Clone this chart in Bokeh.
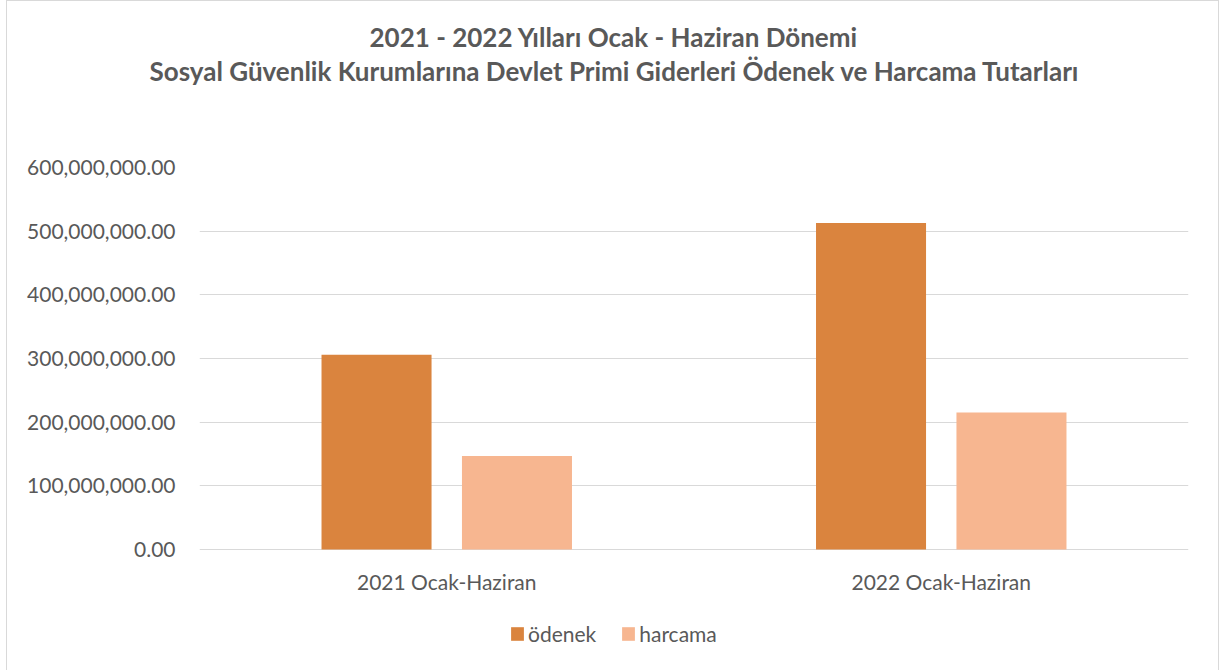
from bokeh.plotting import figure
from bokeh.models import (FactorRange, Range1d, Title, Legend, LegendItem,
                          NumeralTickFormatter, FixedTicker, ColumnDataSource)
from bokeh.core.properties import value
from bokeh.transform import dodge
from bokeh.embed import file_html
from bokeh.resources import INLINE

categories = ["2021 Ocak-Haziran", "2022 Ocak-Haziran"]
odenek = [306000000, 513000000]
harcama = [147000000, 215000000]
series_names = ["ödenek", "harcama"]
colors = ["#DA843E", "#F7B690"]
title_line1 = "2021 - 2022 Yılları Ocak - Haziran Dönemi"
title_line2 = "Sosyal Güvenlik Kurumlarına Devlet Primi Giderleri Ödenek ve Harcama Tutarları"
y_ticks = [0, 100000000, 200000000, 300000000, 400000000, 500000000, 600000000]

FONT = "Lato"
TXT = "#595959"

# frame extends below the zero line to leave room for category labels and legend
Y_TOP = 600000000
Y_BOTTOM = -Y_TOP * 121 / 382

src = ColumnDataSource(dict(cat=categories, odenek=odenek, harcama=harcama,
                            base=[0] * len(categories)))

p = figure(frame_width=989, frame_height=503, x_range=FactorRange(*categories),
           y_range=Range1d(Y_BOTTOM, Y_TOP), output_backend="svg",
           toolbar_location=None, tools="", min_border_left=192,
           min_border_right=30, min_border_top=166, min_border_bottom=0)
p.styles = {"border": "1px solid #d9d9d9", "border-bottom": "none",
            "box-sizing": "border-box", "margin-left": "6px"}
p.title.visible = False

r1 = p.vbar(x=dodge("cat", -0.142, range=p.x_range), top="odenek", width=0.2225,
            source=src, fill_color=colors[0], line_color=None)
r2 = p.vbar(x=dodge("cat", 0.142, range=p.x_range), top="harcama", width=0.2225,
            source=src, fill_color=colors[1], line_color=None)

# category labels under the zero line
p.text(x="cat", y="base", text="cat", source=src, y_offset=32,
       text_align="center", text_baseline="middle", text_font=value(FONT),
       text_font_size="21px", text_color=TXT)

spacer = Title(text=" ", text_font_size="1px", standoff=78)
t2 = Title(text=title_line2, align="left", offset=-50, vertical_align="bottom",
           text_font=FONT, text_font_style="bold", text_font_size="26px",
           text_color=TXT, standoff=0)
t1 = Title(text=title_line1, align="left", offset=170, vertical_align="bottom",
           text_font=FONT, text_font_style="bold", text_font_size="26px",
           text_color=TXT, standoff=0)
p.add_layout(spacer, "above")
p.add_layout(t2, "above")
p.add_layout(t1, "above")

p.yaxis.ticker = FixedTicker(ticks=y_ticks)
p.yaxis.formatter = NumeralTickFormatter(format="0,0.00")
p.yaxis.axis_line_color = None
p.yaxis.major_tick_line_color = None
p.yaxis.minor_tick_line_color = None
p.yaxis.major_label_text_font = FONT
p.yaxis.major_label_text_font_size = "21px"
p.yaxis.major_label_text_color = TXT
p.yaxis.major_label_standoff = 18

p.xaxis.visible = False

p.xgrid.grid_line_color = None
p.ygrid.grid_line_color = "#d9d9d9"
p.ygrid.ticker = FixedTicker(ticks=y_ticks)
p.outline_line_color = None

legend = Legend(items=[LegendItem(label=series_names[0], renderers=[r1]),
                       LegendItem(label=series_names[1], renderers=[r2])],
                orientation="horizontal", location=(310, 24),
                label_text_font=FONT, label_text_font_size="21px", label_text_color=TXT,
                glyph_width=16, glyph_height=17, spacing=24, label_standoff=3,
                border_line_color=None, background_fill_alpha=0, margin=0, padding=0)
p.add_layout(legend)

open("out.html", "w").write(file_html(p, INLINE))
